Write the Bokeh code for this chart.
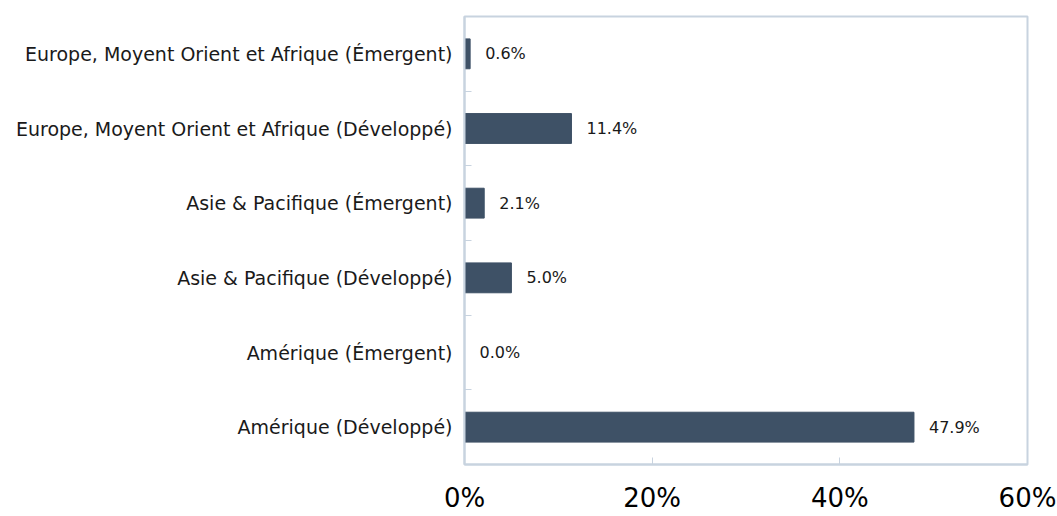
from bokeh.plotting import figure
from bokeh.models import ColumnDataSource, FixedTicker, Range1d, LabelSet
from bokeh.core.properties import value
from bokeh.embed import file_html
from bokeh.resources import INLINE

categories = [
    "Amérique (Développé)",
    "Amérique (Émergent)",
    "Asie & Pacifique (Développé)",
    "Asie & Pacifique (Émergent)",
    "Europe, Moyent Orient et Afrique (Développé)",
    "Europe, Moyent Orient et Afrique (Émergent)",
]
values = [47.9, 0.0, 5.0, 2.1, 11.4, 0.6]
x_ticks = [0, 20, 40, 60]
x_tick_labels = ["0%", "20%", "40%", "60%"]

FONT = "DejaVu Sans"
BAR = "#3e5166"
FRAME = "#c8d3df"

n = len(categories)
pos = [i + 0.5 for i in range(n)]
src = ColumnDataSource(dict(
    y=pos, v=values, cat=categories,
    lbl=[f"{v:.1f}%" for v in values],
))

p = figure(frame_width=563, frame_height=448, output_backend="svg",
           toolbar_location=None,
           x_range=Range1d(0, 60), y_range=Range1d(0, n),
           min_border_left=464, min_border_right=29, min_border_top=16,
           min_border_bottom=10)
p.hbar(y="y", left=0, right="v", height=0.4, source=src, color=BAR)

labels = LabelSet(x="v", y="y", text="lbl", source=src, x_offset=15, y_offset=0,
                  text_baseline="middle", text_font=value(FONT),
                  text_font_size="16px", text_color="#1a1a1a")
p.add_layout(labels)

p.grid.visible = False
p.outline_line_color = FRAME
p.outline_line_width = 2
p.outline_line_alpha = 1.0

# y axis
p.yaxis.ticker = FixedTicker(ticks=pos, minor_ticks=[1, 2, 3, 4, 5])
p.yaxis.major_label_overrides = {pv: c for pv, c in zip(pos, categories)}
p.yaxis.major_tick_line_color = None
p.yaxis.minor_tick_in = 7
p.yaxis.minor_tick_out = 0
p.yaxis.minor_tick_line_color = FRAME
p.yaxis.axis_line_color = FRAME
p.yaxis.axis_line_width = 2
p.yaxis.major_label_text_font = FONT
p.yaxis.major_label_text_font_size = "19px"
p.yaxis.major_label_text_color = "#1a1a1a"
p.yaxis.major_label_standoff = 6

# x axis
p.xaxis.ticker = FixedTicker(ticks=x_ticks)
p.xaxis.major_label_overrides = {t: l for t, l in zip(x_ticks, x_tick_labels)}
p.xaxis.major_tick_in = 7
p.xaxis.major_tick_out = 0
p.xaxis.major_tick_line_color = FRAME
p.xaxis.minor_tick_line_color = None
p.xaxis.axis_line_color = FRAME
p.xaxis.axis_line_width = 2
p.xaxis.major_label_text_font = FONT
p.xaxis.major_label_text_font_size = "26px"
p.xaxis.major_label_text_color = "#000000"
p.xaxis.major_label_standoff = 18

open("out.html", "w").write(file_html(p, INLINE))
